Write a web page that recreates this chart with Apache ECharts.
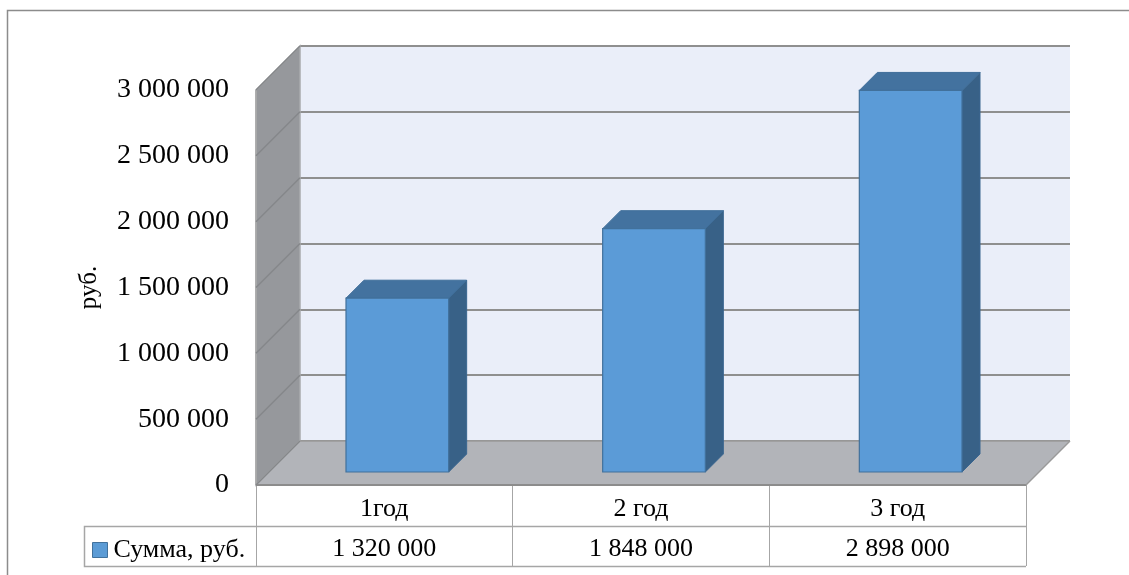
<!DOCTYPE html>
<html><head><meta charset="utf-8">
<script src="https://cdn.jsdelivr.net/npm/echarts@6/dist/echarts.min.js"></script>
<style>html,body{margin:0;padding:0;background:#fff}#c{width:1129px;height:575px}</style>
</head><body><div id="c"></div>
<script>
// ---- data ----
const categories = ['1год', '2 год', '3 год'];
const values = [1320000, 1848000, 2898000];
const seriesName = 'Сумма, руб.';
const yTicks = [0, 500000, 1000000, 1500000, 2000000, 2500000, 3000000];
const yAxisName = 'руб.';

// ---- helpers / style ----
const FONT = "'Liberation Serif', 'Times New Roman', serif";
const D = 44;          // depth of the 3D box (px)
const dFront = 31;     // bar front face depth from back wall
const dBack = 13;      // bar back face depth from back wall
function fmt(n, sp) { return String(n).replace(/\B(?=(\d{3})+(?!\d))/g, sp || ' '); }

const chart = echarts.init(document.getElementById('c'));
const yMin = yTicks[0], yMax = yTicks[yTicks.length - 1], yStep = yTicks[1] - yTicks[0];

const option = {
  animation: false,
  backgroundColor: '#ffffff',
  grid: [
    { left: 300, top: 46, width: 770, height: 395 },   // back wall plane
    { left: 256, top: 90, width: 770, height: 395 }    // front plane
  ],
  xAxis: [
    { type: 'category', gridIndex: 0, data: categories, show: false },
    { type: 'category', gridIndex: 1, data: categories, position: 'bottom',
      axisLine: { show: false },
      axisTick: { show: true, length: 81, lineStyle: { color: '#a6a6a6', width: 1 } },
      axisLabel: { margin: 11, fontFamily: FONT, fontSize: 26, color: '#000' } },
    { type: 'category', gridIndex: 1, data: values.map(v => fmt(v)), position: 'bottom', offset: 41,
      axisLine: { show: false }, axisTick: { show: false },
      axisLabel: { margin: 10, fontFamily: FONT, fontSize: 26, color: '#000' } }
  ],
  yAxis: [
    { type: 'value', gridIndex: 0, min: yMin, max: yMax, interval: yStep,
      axisLine: { show: false }, axisTick: { show: false }, axisLabel: { show: false },
      splitLine: { show: true, lineStyle: { color: '#8f8f8f', width: 2 } },
      splitArea: { show: true, areaStyle: { color: ['#eaeef9'] } } },
    { type: 'value', gridIndex: 1, min: yMin, max: yMax, interval: yStep,
      name: yAxisName, nameLocation: 'middle', nameRotate: 90, nameGap: 154,
      nameTextStyle: { fontFamily: FONT, fontSize: 25, color: '#000' },
      axisLine: { show: false }, axisTick: { show: false }, splitLine: { show: false },
      axisLabel: { margin: 27, fontFamily: FONT, fontSize: 28, color: '#000',
                   formatter: v => fmt(v) } }
  ],
  legend: {
    left: 87, top: 532, itemWidth: 15, itemHeight: 15, icon: 'rect', itemGap: 0,
    textStyle: { fontFamily: FONT, fontSize: 26, color: '#000', padding: [0, 0, 0, 1] },
    data: [{ name: seriesName, itemStyle: { color: '#5b9bd5', borderColor: '#41719c', borderWidth: 1 } }]
  },
  graphic: [
    { type: 'rect', z: -10, shape: { x: 7.5, y: 10.5, width: 1300, height: 800 },
      style: { fill: 'none', stroke: '#8c8c8c', lineWidth: 1.5 } },
    { type: 'polyline', z: 5, shape: { points: [[1026, 526.5], [84.5, 526.5], [84.5, 566.5], [1026, 566.5]] },
      style: { fill: 'none', stroke: '#a6a6a6', lineWidth: 1.5 } }
  ],
  series: [
    { // walls: side wall + floor
      type: 'custom', xAxisIndex: 0, yAxisIndex: 0, z: 1, silent: true,
      data: [[0, 0]],
      renderItem: function (params, api) {
        const cs = params.coordSys;
        const x = cs.x, y = cs.y, w = cs.width, h = cs.height;
        const children = [
          { type: 'polygon', shape: { points: [[x - D, y + D], [x, y], [x, y + h], [x - D, y + h + D]] },
            style: { fill: '#96989c', stroke: '#a9abad', lineWidth: 1.5 } },
          { type: 'polygon', shape: { points: [[x, y + h], [x + w, y + h], [x + w - D, y + h + D], [x - D, y + h + D]] },
            style: { fill: '#b2b4b9', stroke: 'none' } },
          { type: 'line', shape: { x1: x - D, y1: y + h + D, x2: x + w - D, y2: y + h + D },
            style: { stroke: '#8c8c8c', lineWidth: 2 } },
          { type: 'line', shape: { x1: x + w - D, y1: y + h + D, x2: x + w, y2: y + h },
            style: { stroke: '#9a9a9a', lineWidth: 1.5 } },
          { type: 'line', shape: { x1: x - D, y1: y + h + D, x2: x - D, y2: y + D },
            style: { stroke: '#a9a9a9', lineWidth: 1.5 } }
        ];
        yTicks.forEach(function (t) {
          const p = api.coord([0, t]);
          children.push({ type: 'line', shape: { x1: x, y1: p[1], x2: x - D, y2: p[1] + D },
            style: { stroke: '#85878a', lineWidth: 1.5 } });
        });
        children.push({ type: 'line', shape: { x1: x, y1: y + h, x2: x + w, y2: y + h },
            style: { stroke: '#9a9a9a', lineWidth: 1.5 } });
        return { type: 'group', children: children };
      }
    },
    { // 3D bars
      name: seriesName, type: 'custom', xAxisIndex: 0, yAxisIndex: 0, z: 3,
      itemStyle: { color: '#5b9bd5' },
      data: values.map((v, i) => [i, v]),
      renderItem: function (params, api) {
        const i = api.value(0), v = api.value(1);
        const c0 = api.coord([i, 0]), c1 = api.coord([i, v]);
        const hw = api.size([1, 0])[0] * 0.2;
        const s = dFront - dBack;
        const xl = c0[0] - dFront - hw, xr = c0[0] - dFront + hw;
        const yb = c0[1] + dFront, yt = c1[1] + dFront;
        return { type: 'group', children: [
          { type: 'polygon', shape: { points: [[xr, yt], [xr + s, yt - s], [xr + s, yb - s], [xr, yb]] },
            style: { fill: '#386187', stroke: '#3a6690', lineWidth: 1 } },
          { type: 'polygon', shape: { points: [[xl, yt], [xr, yt], [xr + s, yt - s], [xl + s, yt - s]] },
            style: { fill: '#43729f', stroke: '#3f6e9a', lineWidth: 1 } },
          { type: 'polygon', shape: { points: [[xl, yt], [xr, yt], [xr, yb], [xl, yb]] },
            style: { fill: '#5b9bd7', stroke: '#41719c', lineWidth: 1.2 } }
        ] };
      }
    }
  ]
};
chart.setOption(option);
</script>
</body></html>
